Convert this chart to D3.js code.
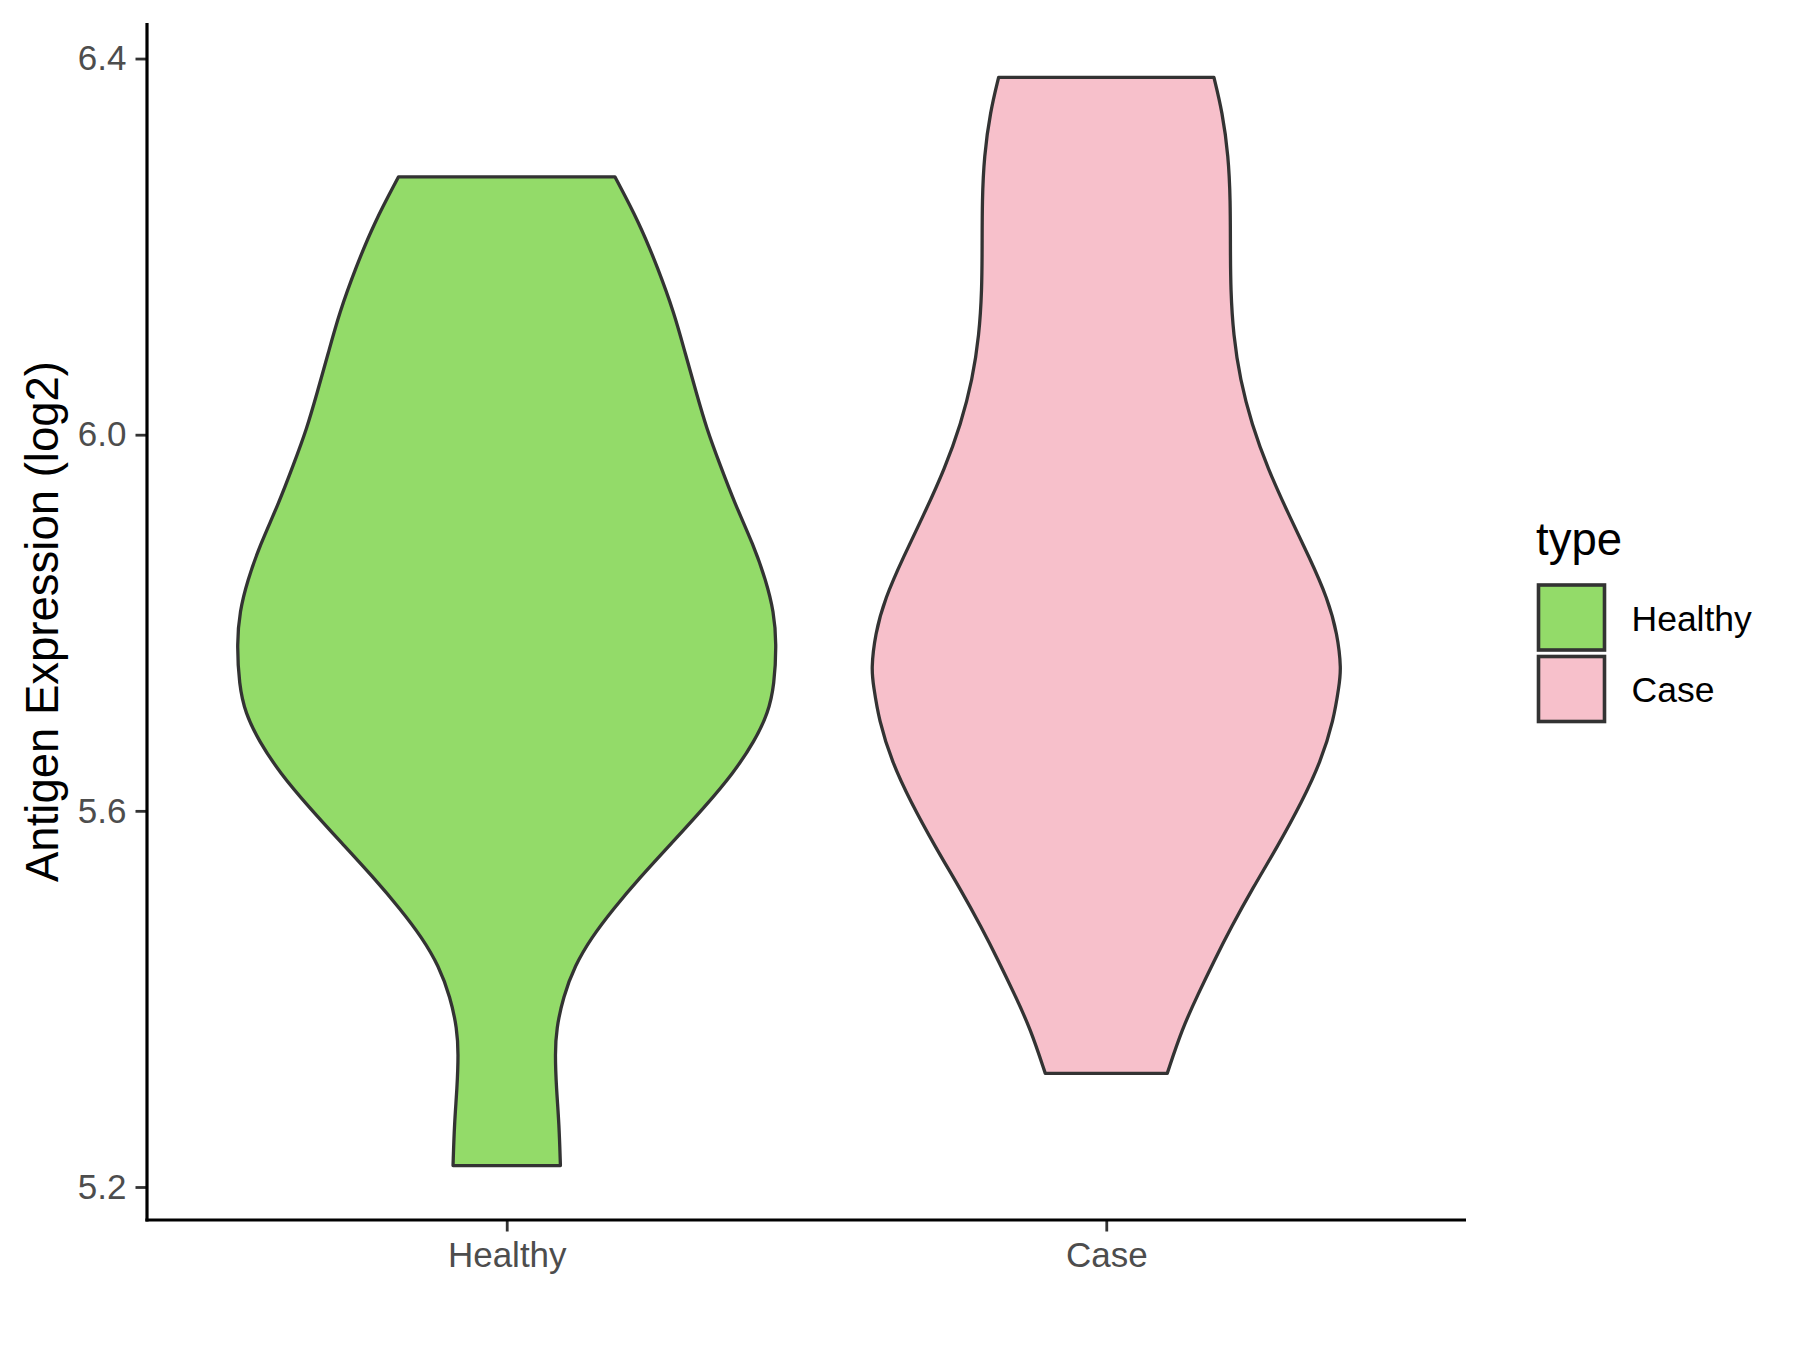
<!DOCTYPE html>
<html>
<head>
<meta charset="utf-8">
<script src="https://cdn.jsdelivr.net/npm/d3@7"></script>
<style>
  html, body { margin: 0; padding: 0; background: #ffffff; }
  svg { display: block; font-family: "Liberation Sans", Arial, sans-serif; }
</style>
</head>
<body>
<svg id="chart" width="1800" height="1350"></svg>
<script>
// ---- data ----
const categories = ["Healthy", "Case"];
const fillColors = ["#93DB69", "#F7C0CB"];
const yTicks = [5.2, 5.6, 6.0, 6.4];
const yTickLabels = ["5.2", "5.6", "6.0", "6.4"];

// violin outlines: value (y) and relative half-width (density)
const healthyValues = [6.2742, 6.2249, 6.1773, 6.1299, 6.0872, 6.0444, 6.0064, 5.9685, 5.9257, 5.8831, 5.8450, 5.8118, 5.7786, 5.7337, 5.7039, 5.6740, 5.6404, 5.6032, 5.5659, 5.5286, 5.4950, 5.4652, 5.4353, 5.4018, 5.3682, 5.3420, 5.3048, 5.2675, 5.2228];
const healthyWidth  = [0.401, 0.492, 0.560, 0.620, 0.661, 0.703, 0.741, 0.790, 0.847, 0.914, 0.961, 0.990, 1.000, 0.992, 0.969, 0.918, 0.841, 0.731, 0.612, 0.492, 0.393, 0.314, 0.252, 0.209, 0.184, 0.179, 0.184, 0.194, 0.199];
const caseValues = [6.3799, 6.3435, 6.2960, 6.2486, 6.2011, 6.1536, 6.1062, 6.0587, 6.0112, 5.9637, 5.9163, 5.8688, 5.8261, 5.7881, 5.7502, 5.7337, 5.6964, 5.6517, 5.6107, 5.5622, 5.5174, 5.4763, 5.4390, 5.4055, 5.3682, 5.3208];
const caseWidth  = [0.399, 0.430, 0.453, 0.460, 0.460, 0.461, 0.471, 0.496, 0.539, 0.599, 0.674, 0.754, 0.820, 0.857, 0.871, 0.863, 0.843, 0.794, 0.727, 0.635, 0.542, 0.463, 0.397, 0.341, 0.281, 0.226];

const yTitle = "Antigen Expression (log2)";
const legendTitle = "type";

// ---- layout ----
const panel = { left: 147, right: 1466, top: 23, bottom: 1220 };
const svg = d3.select("#chart");

const x = d3.scalePoint().domain(categories).range([panel.left, panel.right]).padding(0.6);
const y = d3.scaleLinear().domain([5.1649, 6.4378]).range([panel.bottom, panel.top]);
const w = d3.scaleLinear().domain([0, 1]).range([0, 0.45 * x.step()]);

const groups = [
  { cat: "Healthy", values: healthyValues, widths: healthyWidth, fill: fillColors[0] },
  { cat: "Case", values: caseValues, widths: caseWidth, fill: fillColors[1] }
];

// violins
groups.forEach(g => {
  const pts = g.values.map((v, i) => ({ v, d: g.widths[i] }));
  const cx = x(g.cat);
  const area = d3.area()
    .y(p => y(p.v))
    .x0(p => cx - w(p.d))
    .x1(p => cx + w(p.d))
    .curve(d3.curveBasis);
  svg.append("path")
    .attr("d", area(pts) + "Z")
    .attr("fill", g.fill)
    .attr("stroke", "#333333")
    .attr("stroke-width", 3.3)
    .attr("stroke-linejoin", "round");
});

// y axis
const yAxis = d3.axisLeft(y).tickValues(yTicks).tickFormat((d, i) => yTickLabels[i]).tickSize(11.5).tickPadding(9);
const gy = svg.append("g").attr("transform", `translate(${panel.left},0)`).call(yAxis);
gy.select(".domain").remove();
gy.selectAll(".tick line").attr("stroke", "#333333").attr("stroke-width", 2.8);
gy.selectAll(".tick text").attr("fill", "#4D4D4D").attr("font-size", 35).attr("font-family", "Liberation Sans, Arial, sans-serif");

// x axis
const xAxis = d3.axisBottom(x).tickSize(11.5).tickPadding(11);
const gx = svg.append("g").attr("transform", `translate(0,${panel.bottom})`).call(xAxis);
gx.select(".domain").remove();
gx.selectAll(".tick line").attr("stroke", "#333333").attr("stroke-width", 2.8);
gx.selectAll(".tick text").attr("fill", "#4D4D4D").attr("font-size", 35).attr("font-family", "Liberation Sans, Arial, sans-serif");

// axis lines
svg.append("line").attr("x1", panel.left).attr("x2", panel.left).attr("y1", panel.top).attr("y2", panel.bottom + 1.5)
  .attr("stroke", "#000").attr("stroke-width", 3.2);
svg.append("line").attr("x1", panel.left - 1.6).attr("x2", panel.right).attr("y1", panel.bottom).attr("y2", panel.bottom)
  .attr("stroke", "#000").attr("stroke-width", 3.2);

// y title
svg.append("text")
  .attr("transform", `translate(58,${(panel.top + panel.bottom) / 2}) rotate(-90)`)
  .attr("text-anchor", "middle")
  .attr("font-size", 45.5)
  .attr("fill", "#000")
  .text(yTitle);

// legend
const lg = svg.append("g");
lg.append("text").attr("x", 1536).attr("y", 555).attr("font-size", 45.5).attr("fill", "#000").text(legendTitle);
groups.forEach((g, i) => {
  const top = 585 + i * 71.5;
  lg.append("rect").attr("x", 1538.5).attr("y", top).attr("width", 66).attr("height", 65)
    .attr("fill", g.fill).attr("stroke", "#333333").attr("stroke-width", 3.6);
  lg.append("text").attr("x", 1631.5).attr("y", top + 45.5).attr("font-size", 35.5).attr("fill", "#000").text(g.cat);
});
</script>
</body>
</html>
